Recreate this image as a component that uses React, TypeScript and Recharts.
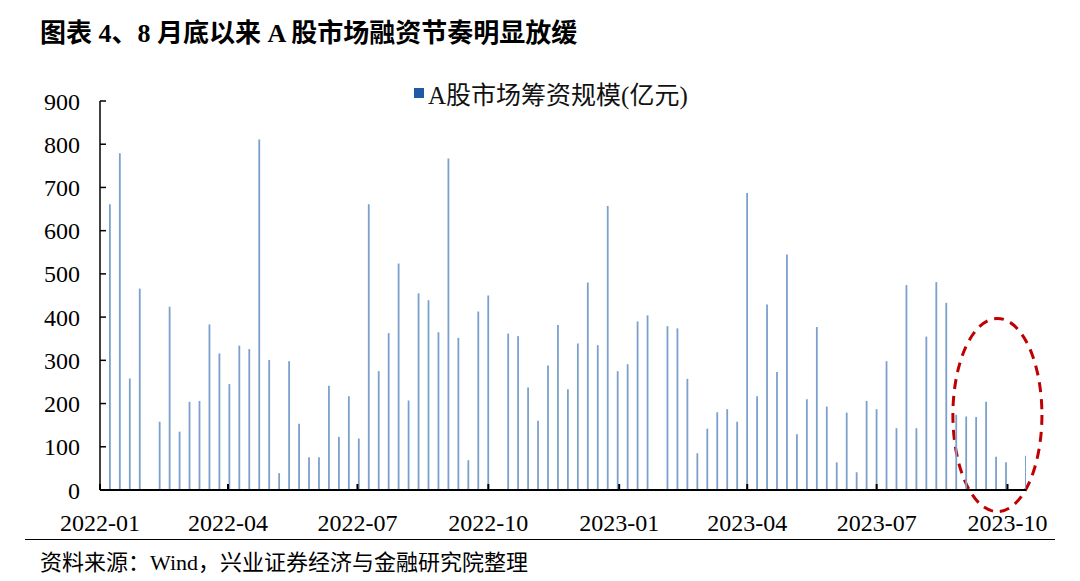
import React from 'react';
import {Bar, BarChart, Legend, ReferenceArea, XAxis, YAxis} from 'recharts';

// weekly A-share financing (亿元), one value per Friday from 2022-01-07
const FIRST_WEEK_DAY = 6; // 2022-01-07 counted from 2022-01-01
const WEEK_VALUES = [
  661, 779, 258, 466, 0, 158, 424, 135, 204, 206, 383, 316, 245, 334, 326, 811,
  301, 39, 298, 153, 76, 76, 241, 123, 217, 119, 661, 275, 363, 524, 207, 455,
  439, 365, 767, 352, 69, 413, 450, 0, 362, 356, 237, 160, 288, 382, 233, 339,
  480, 335, 657, 275, 291, 390, 404, 0, 379, 374, 257, 85, 142, 180, 187, 158,
  687, 217, 429, 273, 545, 129, 210, 377, 193, 64, 179, 41, 206, 187, 298, 143,
  474, 143, 355, 481, 433, 174, 170, 169, 204, 77, 64, 0, 79,
];

// quarter starts, in days from 2022-01-01
const X_TICKS = [0, 90, 181, 273, 365, 455, 546, 638];
const X_TICK_LABELS = ['2022-01', '2022-04', '2022-07', '2022-10', '2023-01', '2023-04', '2023-07', '2023-10'];
const Y_TICKS = [0, 100, 200, 300, 400, 500, 600, 700, 800, 900];

const SERIES_NAME = 'A股市场筹资规模(亿元)';
const TITLE = '图表 4、8 月底以来 A 股市场融资节奏明显放缓';
const SOURCE = '资料来源：Wind，兴业证券经济与金融研究院整理';

const FONT = '"Liberation Serif", "Noto Sans CJK SC", serif';

const chartData = WEEK_VALUES.map((v, i) => ({
  day: FIRST_WEEK_DAY + i * 7 + 1,
  value: v,
}));

const LegendContent = () => (
  <div style={{display: 'flex', alignItems: 'center', height: 30, fontFamily: FONT, fontSize: 25, color: '#111'}}>
    <span style={{display: 'inline-block', width: 10, height: 10, background: '#1f5aa6', marginRight: 4}} />
    <span>{SERIES_NAME}</span>
  </div>
);

const EllipseShape = (props: any) => {
  const {x, y, width, height} = props;
  return (
    <ellipse
      cx={x + width / 2}
      cy={y + height / 2}
      rx={width / 2}
      ry={height / 2}
      fill="none"
      stroke="#c00000"
      strokeWidth={3}
      strokeDasharray="10 7"
    />
  );
};

export default function App() {
  return (
    <div style={{position: 'absolute', left: 0, top: 0, width: 1080, height: 581, background: '#fff', fontFamily: FONT}}>
      <div style={{position: 'absolute', left: 40, top: 12, fontSize: 26, fontWeight: 'bold', color: '#000', whiteSpace: 'nowrap'}}>
        {TITLE}
      </div>

      <BarChart
        width={1080}
        height={581}
        data={chartData}
        margin={{top: 71, right: 54, left: 0, bottom: 51}}
        barCategoryGap={0}
      >
        <XAxis
          type="number"
          dataKey="day"
          domain={[0, 651]}
          ticks={X_TICKS}
          tickFormatter={(v: number) => X_TICK_LABELS[X_TICKS.indexOf(v)] ?? ''}
          interval={0}
          height={40}
          tickSize={-6}
          tickMargin={30}
          axisLine={{stroke: '#000', strokeWidth: 2}}
          tickLine={{stroke: '#000', strokeWidth: 2}}
          tick={{fill: '#000', fontSize: 24, fontFamily: FONT}}
          allowDataOverflow
        />
        <YAxis
          domain={[0, 900]}
          ticks={Y_TICKS}
          interval={0}
          width={100}
          tickSize={-6}
          tickMargin={26}
          axisLine={{stroke: '#000', strokeWidth: 1.5}}
          tickLine={{stroke: '#000', strokeWidth: 1.5}}
          tick={{fill: '#000', fontSize: 24, fontFamily: FONT}}
          allowDataOverflow
        />
        <Legend
          verticalAlign="top"
          align="left"
          content={<LegendContent />}
          wrapperStyle={{top: 78, left: 414, width: 'auto'}}
        />
        <Bar dataKey="value" name={SERIES_NAME} fill="#7ba0cd" barSize={1.8} isAnimationActive={false} />
        <ReferenceArea x1={599.6} x2={662.2} y1={-50} y2={397} ifOverflow="visible" shape={<EllipseShape />} />
      </BarChart>

      <div style={{position: 'absolute', left: 25, top: 539, width: 1030, height: 0, borderTop: '1.5px solid #000'}} />
      <div style={{position: 'absolute', left: 40, top: 544, fontSize: 22, color: '#000', whiteSpace: 'nowrap'}}>
        {SOURCE}
      </div>
    </div>
  );
}
